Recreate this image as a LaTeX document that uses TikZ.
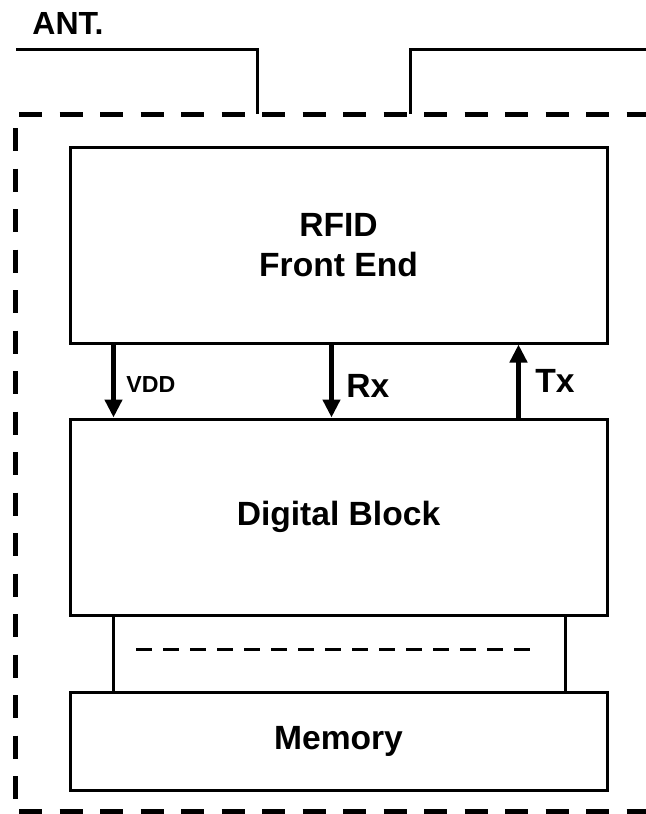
\documentclass[tikz,border=0pt]{standalone}
\usepackage{fontspec}
\setmainfont{Liberation Sans}
\usetikzlibrary{arrows.meta}

\begin{document}
\begin{tikzpicture}[x=0.5pt,y=-0.5pt,
  blk/.style={draw,line width=1.5pt,minimum width=268.5pt,inner sep=0pt,align=center,font=\fontsize{16.8}{20}\selectfont\bfseries},
  sig/.style={line width=2.2pt,-{Triangle[length=9pt,width=8.5pt]}},
  lbl/.style={anchor=west,inner sep=0pt,font=\fontsize{16.8}{20}\selectfont\bfseries},
  wire/.style={line width=1.5pt},
  border/.style={line width=2.5pt,dash pattern=on 11.5pt off 8.75pt}]
\useasboundingbox (0,0) rectangle (646,814);
\node[lbl,font=\fontsize{16}{19}\selectfont\bfseries] (ant) at (32,23.5) {ANT.};
\draw[wire] (16,49) -- (257,49) -- (257,114);
\draw[wire] (410,114) -- (410,49) -- (646,49);
\draw[border] (19,114) -- (646,114);
\draw[border] (15,128) -- (15,800);
\draw[border] (19,811) -- (646,811);
\node[blk,minimum height=98pt] (rfid) at (338.5,245) {RFID\\Front End};
\node[blk,minimum height=98pt] (dig) at (338.5,517) {Digital Block};
\node[blk,minimum height=49pt] (mem) at (338.5,741) {Memory};
\draw[sig] ([xshift=22.5pt]rfid.south west) -- ([xshift=22.5pt]dig.north west);
\draw[sig] ([xshift=131.5pt]rfid.south west) -- ([xshift=131.5pt]dig.north west);
\draw[sig] ([xshift=225pt]dig.north west) -- ([xshift=225pt]rfid.south west);
\node[lbl,font=\fontsize{11.6}{14}\selectfont\bfseries] (vdd) at (126,385) {VDD};
\node[lbl] (rx) at (346,385.5) {Rx};
\node[lbl] (tx) at (535,381) {Tx};
\draw[wire] ([xshift=22.5pt]dig.south west) -- ([xshift=22.5pt]mem.north west);
\draw[wire] ([xshift=-21.5pt]dig.south east) -- ([xshift=-21.5pt]mem.north east);
\draw[wire,dash pattern=on 8pt off 5.5pt] (136,649) -- (531,649);
\end{tikzpicture}
\end{document}
